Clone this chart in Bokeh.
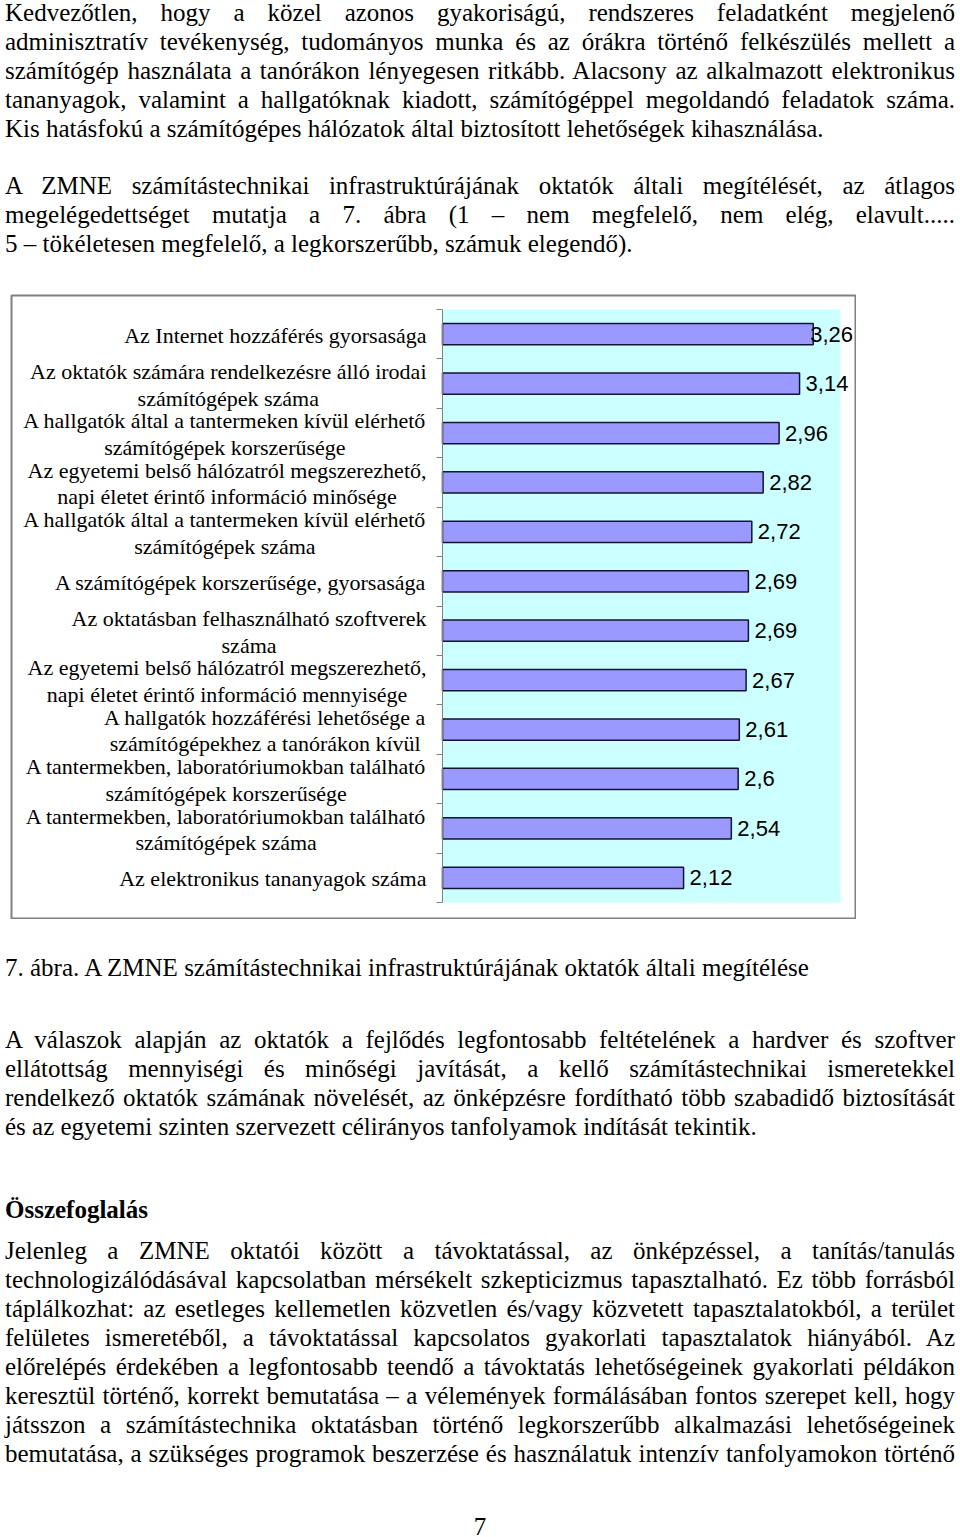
from bokeh.plotting import figure
from bokeh.models import Range1d, FixedTicker, Div, Spacer, LinearAxis
from bokeh.layouts import column, row
from bokeh.core.properties import value
from bokeh.embed import file_html
from bokeh.resources import INLINE

# ---------------- data ----------------
categories = [
    "Az Internet hozzáférés gyorsasága",
    "Az oktatók számára rendelkezésre álló irodai\nszámítógépek száma",
    "A hallgatók által a tantermeken kívül elérhető\nszámítógépek korszerűsége",
    "Az egyetemi belső hálózatról megszerezhető,\nnapi életet érintő információ minősége",
    "A hallgatók által a tantermeken kívül elérhető\nszámítógépek száma",
    "A számítógépek korszerűsége, gyorsasága",
    "Az oktatásban felhasználható szoftverek\nszáma",
    "Az egyetemi belső hálózatról megszerezhető,\nnapi életet érintő információ mennyisége",
    "A hallgatók hozzáférési lehetősége a\nszámítógépekhez a tanórákon kívül",
    "A tantermekben, laboratóriumokban található\nszámítógépek korszerűsége",
    "A tantermekben, laboratóriumokban található\nszámítógépek száma",
    "Az elektronikus tananyagok száma",
]
values = [3.26, 3.14, 2.96, 2.82, 2.72, 2.69, 2.69, 2.67, 2.61, 2.6, 2.54, 2.12]
x_min, x_max = 0, 3.5

para1 = [
    "Kedvezőtlen, hogy a közel azonos gyakoriságú, rendszeres feladatként megjelenő",
    "adminisztratív tevékenység, tudományos munka és az órákra történő felkészülés mellett a",
    "számítógép használata a tanórákon lényegesen ritkább. Alacsony az alkalmazott elektronikus",
    "tananyagok, valamint a hallgatóknak kiadott, számítógéppel megoldandó feladatok száma.",
    "Kis hatásfokú a számítógépes hálózatok által biztosított lehetőségek kihasználása.",
]
para2 = [
    "A ZMNE számítástechnikai infrastruktúrájának oktatók általi megítélését, az átlagos",
    "megelégedettséget mutatja a 7. ábra (1 – nem megfelelő, nem elég, elavult.....",
    "5 – tökéletesen megfelelő, a legkorszerűbb, számuk elegendő).",
]
caption = "7. ábra. A ZMNE számítástechnikai infrastruktúrájának oktatók általi megítélése"
para3 = [
    "A válaszok alapján az oktatók a fejlődés legfontosabb feltételének a hardver és szoftver",
    "ellátottság mennyiségi és minőségi javítását, a kellő számítástechnikai ismeretekkel",
    "rendelkező oktatók számának növelését, az önképzésre fordítható több szabadidő biztosítását",
    "és az egyetemi szinten szervezett célirányos tanfolyamok indítását tekintik.",
]
heading = "Összefoglalás"
para4 = [
    "Jelenleg a ZMNE oktatói között a távoktatással, az önképzéssel, a tanítás/tanulás",
    "technologizálódásával kapcsolatban mérsékelt szkepticizmus tapasztalható. Ez több forrásból",
    "táplálkozhat: az esetleges kellemetlen közvetlen és/vagy közvetett tapasztalatokból, a terület",
    "felületes ismeretéből, a távoktatással kapcsolatos gyakorlati tapasztalatok hiányából. Az",
    "előrelépés érdekében a legfontosabb teendő a távoktatás lehetőségeinek gyakorlati példákon",
    "keresztül történő, korrekt bemutatása – a vélemények formálásában fontos szerepet kell, hogy",
    "játsszon a számítástechnika oktatásban történő legkorszerűbb alkalmazási lehetőségeinek",
    "bemutatása, a szükséges programok beszerzése és használatuk intenzív tanfolyamokon történő",
]
page_number = "7"

# ---------------- text helpers ----------------
FONT = "font-family:'Liberation Serif','Times New Roman',serif;font-size:25px;line-height:29px;color:#000;"


def line_div(text, top, justify=True, bold=False, left=5, width=950, center=False):
    if center:
        align = "text-align:center;"
    elif justify:
        align = "text-align:justify;text-align-last:justify;"
    else:
        align = "text-align:left;"
    weight = "font-weight:bold;" if bold else ""
    return (f'<div style="position:absolute;left:{left}px;top:{top}px;width:{width}px;'
            f'{FONT}{align}{weight}white-space:nowrap;">{text}</div>')


def para_html(lines, first_center, origin, last_justified=False):
    out = []
    for i, ln in enumerate(lines):
        last = i == len(lines) - 1
        out.append(line_div(ln, first_center + 29 * i - 15 - origin,
                            justify=(not last) or last_justified))
    return "".join(out)


# page geometry (pixels)
BOX_TOP, BOX_BOTTOM = 295, 918      # outer chart box
BOX_LEFT, BOX_RIGHT = 11, 855
PLOT_LEFT, PLOT_RIGHT = 442, 840    # cyan plot area
PLOT_TOP, PLOT_BOTTOM = 309, 902

TOP_H = BOX_TOP - 1
top_html = (f'<div style="position:relative;width:960px;height:{TOP_H}px;">'
            + para_html(para1, 13, 0)
            + para_html(para2, 186, 0)
            + '</div>')
top_div = Div(text=top_html, width=960, height=TOP_H, margin=0)

FIG_H = BOX_BOTTOM - BOX_TOP + 2
BOT_Y = TOP_H + FIG_H
BOT_H = 1537 - BOT_Y
bot_html = (f'<div style="position:relative;width:960px;height:{BOT_H}px;">'
            + line_div(caption, 968 - 15 - BOT_Y, justify=False)
            + para_html(para3, 1040, BOT_Y)
            + line_div(heading, 1210 - 15 - BOT_Y, justify=False, bold=True)
            + para_html(para4, 1251, BOT_Y, last_justified=True)
            + line_div(page_number, 1527 - 15 - BOT_Y, center=True, left=0, width=960)
            + '</div>')
bot_div = Div(text=bot_html, width=960, height=BOT_H, margin=0)

# ---------------- chart ----------------
n = len(categories)
ys = [i + 0.5 for i in range(n)]
labels = [f"{v:g}".replace(".", ",") for v in values]
label_off = [6 if v < 3.2 else -3 for v in values]

# frame = outer chart box; ranges chosen so that [x_min, x_max] x [0, n] fills the plot area
sx = (PLOT_RIGHT - PLOT_LEFT) / (x_max - x_min)
sy = (PLOT_BOTTOM - PLOT_TOP) / n
xr = Range1d(x_min - (PLOT_LEFT - BOX_LEFT) / sx, x_max + (BOX_RIGHT - PLOT_RIGHT) / sx)
yr = Range1d(n + (BOX_BOTTOM - PLOT_BOTTOM) / sy, -(PLOT_TOP - BOX_TOP) / sy)

FIG_W = BOX_RIGHT - BOX_LEFT + 2
p = figure(width=FIG_W, height=FIG_H, x_range=xr, y_range=yr,
           output_backend="svg", toolbar_location=None,
           x_axis_location=None, y_axis_location=None,
           min_border_left=1, min_border_right=1,
           min_border_top=1, min_border_bottom=1)
p.background_fill_color = "white"
p.border_fill_color = "white"
p.outline_line_color = "#808080"
p.outline_line_width = 2
p.xgrid.visible = False
p.ygrid.visible = False

# cyan plot area
p.quad(left=[x_min], right=[x_max], top=[0], bottom=[n],
       fill_color="#CCFFFF", line_color=None)

yaxis = LinearAxis(fixed_location=x_min, bounds=(0, n),
                   ticker=FixedTicker(ticks=list(range(n + 1))),
                   major_label_overrides={i: "" for i in range(n + 1)},
                   major_tick_out=6, major_tick_in=0,
                   minor_tick_line_color=None,
                   axis_line_color="#808080", major_tick_line_color="#808080")
p.add_layout(yaxis, "left")

p.hbar(y=ys, left=x_min, right=values, height=0.43,
       fill_color="#9999FF", line_color="#141433", line_width=1.5)

p.text(x=values, y=ys, text=labels, x_offset=label_off,
       text_font=value("Liberation Sans"), text_font_size="22px",
       text_baseline="middle", text_align="left", text_color="black")

p.text(x=[x_min] * n, y=ys, text=categories, x_offset=-16, y_offset=1,
       anchor=value("center_right"), text_align="center",
       text_font=value("Liberation Serif"), text_font_size="22px",
       text_line_height=1.07, text_color="black")

chart_row = row(Spacer(width=BOX_LEFT - 1, height=FIG_H, margin=0), p)
layout = column(top_div, chart_row, bot_div)

open("out.html", "w").write(file_html(layout, INLINE))
